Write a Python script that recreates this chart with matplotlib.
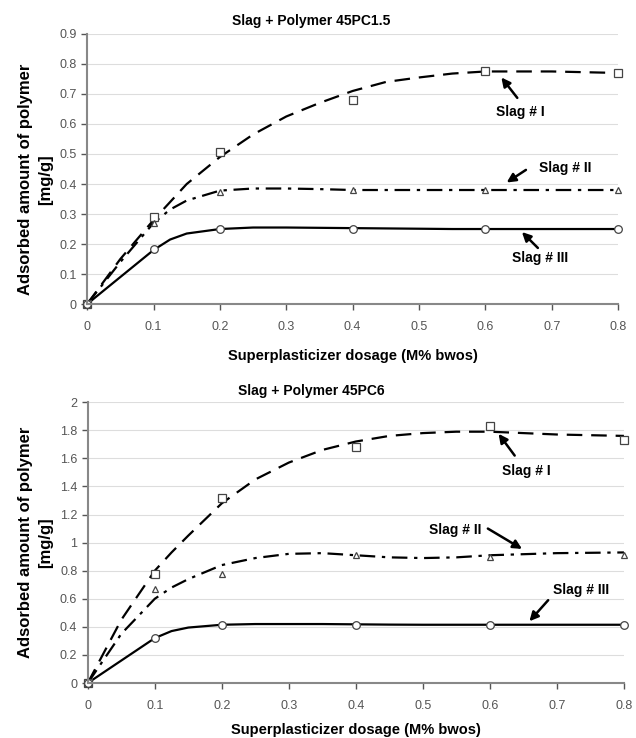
import matplotlib
matplotlib.use("Agg")
import matplotlib.pyplot as plt

plt.rcParams['font.family'] = ['Liberation Sans', 'DejaVu Sans']

# measured points
dose = [0, 0.1, 0.2, 0.4, 0.6, 0.8]
top_slag1 = [0, 0.29, 0.505, 0.68, 0.775, 0.77]
top_slag2 = [0, 0.27, 0.375, 0.38, 0.38, 0.38]
top_slag3 = [0, 0.185, 0.25, 0.25, 0.25, 0.25]
bot_slag1 = [0, 0.78, 1.32, 1.68, 1.83, 1.73]
bot_slag2 = [0, 0.67, 0.78, 0.91, 0.90, 0.91]
bot_slag3 = [0, 0.32, 0.41, 0.41, 0.41, 0.41]

# trend lines
tr_x = [0, 0.05, 0.1, 0.125, 0.15, 0.2, 0.25, 0.3, 0.35, 0.4, 0.45, 0.5, 0.55, 0.6, 0.7, 0.8]
top_tr1 = [0, 0.15, 0.28, 0.34, 0.40, 0.49, 0.565, 0.625, 0.67, 0.71, 0.74, 0.755, 0.768, 0.775, 0.775, 0.77]
top_tr2 = [0, 0.14, 0.27, 0.315, 0.345, 0.378, 0.385, 0.385, 0.383, 0.38, 0.38, 0.38, 0.38, 0.38, 0.38, 0.38]
top_tr3 = [0, 0.09, 0.18, 0.215, 0.235, 0.25, 0.255, 0.255, 0.254, 0.253, 0.252, 0.251, 0.25, 0.25, 0.25, 0.25]
bot_tr1 = [0, 0.45, 0.80, 0.93, 1.05, 1.28, 1.45, 1.57, 1.66, 1.72, 1.76, 1.78, 1.79, 1.79, 1.77, 1.76]
bot_tr2 = [0, 0.35, 0.60, 0.68, 0.74, 0.84, 0.89, 0.92, 0.925, 0.91, 0.895, 0.89, 0.895, 0.91, 0.925, 0.93]
bot_tr3 = [0, 0.16, 0.32, 0.37, 0.395, 0.415, 0.42, 0.42, 0.42, 0.418, 0.416, 0.415, 0.415, 0.415, 0.415, 0.415]

top_ticks = [0, 0.1, 0.2, 0.3, 0.4, 0.5, 0.6, 0.7, 0.8, 0.9]
bot_ticks = [0, 0.2, 0.4, 0.6, 0.8, 1, 1.2, 1.4, 1.6, 1.8, 2]
x_ticks = [0, 0.1, 0.2, 0.3, 0.4, 0.5, 0.6, 0.7, 0.8]

labels = ["Slag # I", "Slag # II", "Slag # III"]

fig = plt.figure(figsize=(6.36, 7.38), dpi=100)
ax1 = fig.add_axes([0.137, 0.588, 0.835, 0.366])
ax2 = fig.add_axes([0.138, 0.0745, 0.843, 0.3805])


def style(ax, yt, xpad, ylab_x, ylab_y):
    ax.set_xlim(0, 0.8)
    ax.set_ylim(0, yt[-1])
    ax.set_xticks(x_ticks)
    ax.set_xticklabels([f"{v:g}" for v in x_ticks])
    ax.set_yticks(yt)
    ax.set_yticklabels([f"{v:g}" for v in yt])
    ax.grid(axis='y', color='#dddddd', lw=0.8)
    ax.set_axisbelow(True)
    for s in ['top', 'right']:
        ax.spines[s].set_visible(False)
    for s in ['left', 'bottom']:
        ax.spines[s].set_color('#888888')
        ax.spines[s].set_linewidth(1.5)
    ax.tick_params(colors='#555555', labelsize=9, length=4, width=1)
    ax.tick_params(axis='x', pad=8)
    ax.set_ylabel("Adsorbed amount of polymer\n[mg/g]", fontsize=12, fontweight='bold',
                  linespacing=1.45)
    ax.yaxis.set_label_coords(ylab_x, ylab_y)
    ax.set_xlabel("Superplasticizer dosage (M% bwos)", fontsize=10.5, fontweight='bold', labelpad=xpad)


def draw(ax, s1, s2, s3, t1, t2, t3):
    ax.plot(tr_x, t1, color='black', lw=1.6, ls=(0, (7, 4)))
    ax.plot(tr_x, t2, color='black', lw=1.6, ls=(0, (7, 3, 1.5, 3)))
    ax.plot(tr_x, t3, color='black', lw=1.6, ls='-')
    kw = dict(ls='none', mfc='white', mec='#444444', mew=0.9, clip_on=False)
    ax.plot(dose, s1, marker='s', ms=6, **kw)
    ax.plot(dose, s2, marker='^', ms=5, **kw)
    ax.plot(dose, s3, marker='o', ms=5.5, **kw)


def note(ax, text, tip, tail, pos):
    ax.annotate("", xy=tip, xytext=tail,
                arrowprops=dict(arrowstyle='-|>', color='black', lw=1.8, mutation_scale=13,
                                shrinkA=0, shrinkB=0))
    ax.text(pos[0], pos[1], text, fontsize=10, fontweight='bold', ha='center', va='center')


style(ax1, top_ticks, 12, -0.064, 0.46)
draw(ax1, top_slag1, top_slag2, top_slag3, top_tr1, top_tr2, top_tr3)
note(ax1, labels[0], (0.624, 0.755), (0.648, 0.687), (0.652, 0.64))
note(ax1, labels[1], (0.632, 0.405), (0.661, 0.447), (0.72, 0.455))
note(ax1, labels[2], (0.655, 0.24), (0.679, 0.187), (0.682, 0.152))
fig.text(0.49, 0.972, "Slag + Polymer 45PC1.5", ha='center', va='center', fontsize=10, fontweight='bold')

style(ax2, bot_ticks, 8, -0.065, 0.5)
draw(ax2, bot_slag1, bot_slag2, bot_slag3, bot_tr1, bot_tr2, bot_tr3)
note(ax2, labels[0], (0.613, 1.775), (0.637, 1.62), (0.654, 1.51))
note(ax2, labels[1], (0.648, 0.955), (0.597, 1.10), (0.548, 1.09))
note(ax2, labels[2], (0.659, 0.44), (0.687, 0.59), (0.736, 0.66))
fig.text(0.49, 0.470, "Slag + Polymer 45PC6", ha='center', va='center', fontsize=10, fontweight='bold')

fig.savefig("out.png", dpi=100)
